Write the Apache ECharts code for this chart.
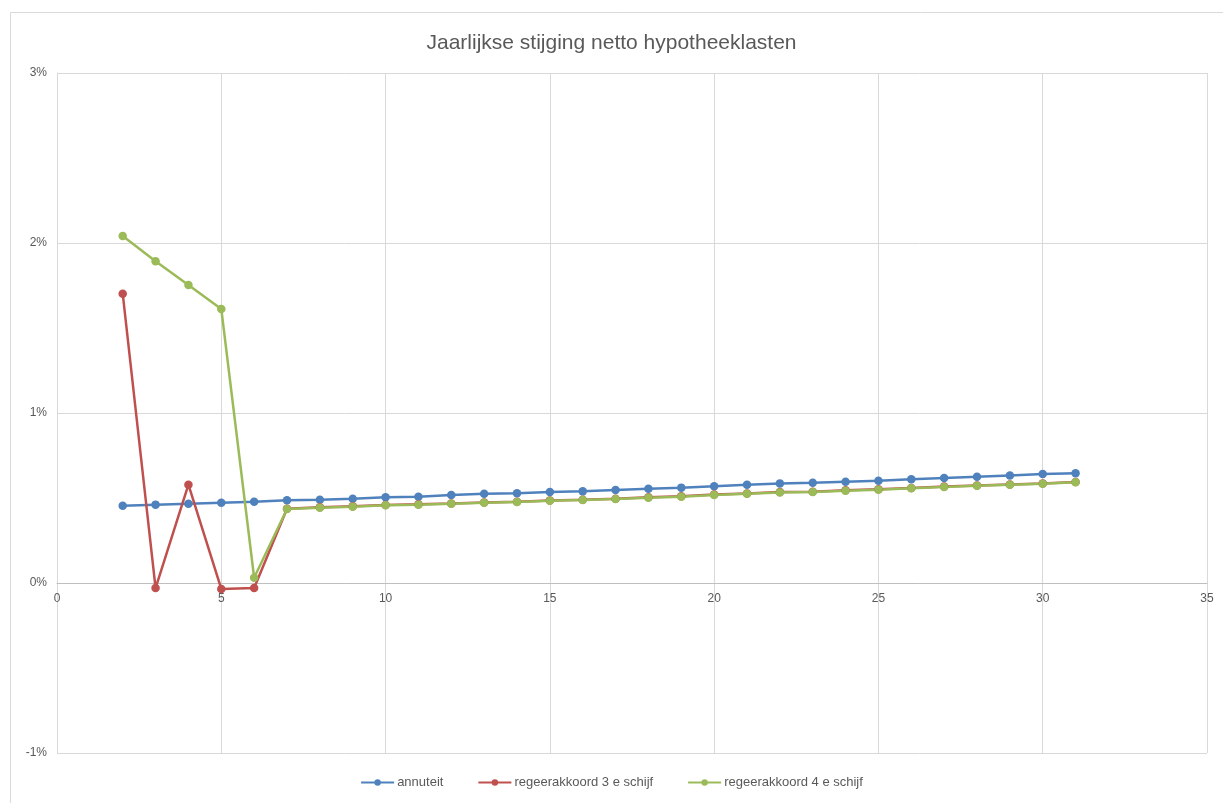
<!DOCTYPE html>
<html>
<head>
<meta charset="utf-8">
<script src="https://cdn.jsdelivr.net/npm/echarts@6/dist/echarts.min.js"></script>
<style>
html,body{margin:0;padding:0;background:#fff;}
#chart{width:1223px;height:803px;}
</style>
</head>
<body>
<div id="chart"></div>
<script>
const years = [2,3,4,5,6,7,8,9,10,11,12,13,14,15,16,17,18,19,20,21,22,23,24,25,26,27,28,29,30,31];
const annuiteit = [0.455,0.461,0.466,0.472,0.478,0.487,0.490,0.496,0.504,0.508,0.518,0.525,0.528,0.535,0.539,0.547,0.555,0.561,0.569,0.578,0.586,0.590,0.596,0.602,0.610,0.618,0.625,0.633,0.641,0.645];
const regeer3 = [1.702,-0.030,0.578,-0.035,-0.030,0.437,0.445,0.451,0.459,0.463,0.468,0.474,0.478,0.486,0.490,0.496,0.504,0.510,0.520,0.527,0.535,0.537,0.545,0.551,0.559,0.567,0.574,0.580,0.586,0.594];
const regeer4 = [2.041,1.892,1.753,1.612,0.031,0.435,0.443,0.449,0.457,0.461,0.466,0.472,0.476,0.484,0.488,0.494,0.502,0.508,0.518,0.525,0.533,0.535,0.543,0.549,0.557,0.565,0.572,0.578,0.584,0.592];
const seriesNames = ['annuteit','regeerakkoord 3 e schijf','regeerakkoord 4 e schijf'];
const colors = ['#4F81BD','#C0504D','#9BBB59'];

const pairs = arr => years.map((x,i)=>[x,arr[i]]);
const chart = echarts.init(document.getElementById('chart'));
const mk = (name, data, color) => ({
  name, type:'line', data: pairs(data),
  symbol:'circle', symbolSize:8.5,
  lineStyle:{color, width:2.5},
  itemStyle:{color},
  emphasis:{disabled:true}
});
chart.setOption({
  animation:false,
  textStyle:{fontFamily:'Liberation Sans, Arial, sans-serif'},
  graphic:[{type:'rect', shape:{x:10.5,y:12.5,width:1230,height:800}, style:{fill:'none', stroke:'#d9d9d9', lineWidth:1}, silent:true}],
  title:{text:'Jaarlijkse stijging netto hypotheeklasten', left:'center', top:28,
    textStyle:{fontSize:21, fontWeight:'normal', color:'#595959', fontFamily:'Liberation Sans Narrow, Liberation Sans, sans-serif'}},
  legend:{bottom:9, left:'center', itemWidth:33, itemHeight:8, itemGap:34,
    textStyle:{fontSize:13, color:'#595959', padding:[0,0,0,-2]}, data:seriesNames},
  grid:{left:57, right:16, top:73, bottom:50, containLabel:false},
  xAxis:{type:'value', min:0, max:35, interval:5, position:'bottom', offset:-170,
    axisLine:{onZero:false, lineStyle:{color:'#bfbfbf'}},
    axisTick:{show:false},
    axisLabel:{color:'#595959', fontSize:12, margin:10},
    splitLine:{show:true, lineStyle:{color:'#d9d9d9'}}},
  yAxis:{type:'value', min:-1, max:3, interval:1,
    axisLine:{show:true, onZero:false, lineStyle:{color:'#d9d9d9'}}, axisTick:{show:false},
    axisLabel:{color:'#595959', fontSize:12, formatter:'{value}%', margin:10},
    splitLine:{show:true, lineStyle:{color:'#d9d9d9'}}},
  series:[mk(seriesNames[0], annuiteit, colors[0]), mk(seriesNames[1], regeer3, colors[1]), mk(seriesNames[2], regeer4, colors[2])]
});
</script>
</body>
</html>
